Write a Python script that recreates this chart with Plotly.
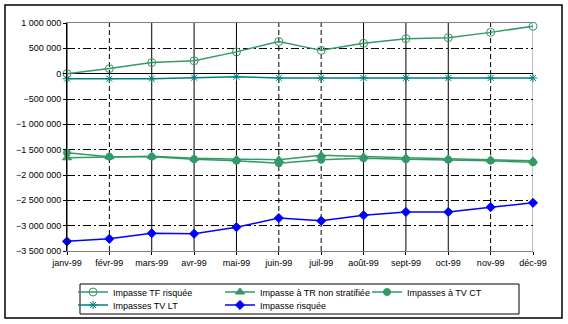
import plotly.graph_objects as go

# Months of 1999
months = ["janv-99", "févr-99", "mars-99", "avr-99", "mai-99", "juin-99",
          "juil-99", "août-99", "sept-99", "oct-99", "nov-99", "déc-99"]

# Series values
impasse_tf_risquee = [0, 100000, 220000, 255000, 430000, 635000,
                      460000, 600000, 690000, 710000, 815000, 935000]
impasse_tr_non_strat = [-1660000, -1640000, -1630000, -1670000, -1690000, -1700000,
                        -1610000, -1640000, -1660000, -1680000, -1700000, -1720000]
impasses_tv_ct = [-1560000, -1640000, -1640000, -1690000, -1720000, -1770000,
                  -1700000, -1670000, -1690000, -1700000, -1720000, -1750000]
impasses_tv_lt = [-100000, -100000, -100000, -80000, -60000, -85000,
                  -85000, -85000, -85000, -85000, -85000, -85000]
impasse_risquee = [-3310000, -3260000, -3150000, -3160000, -3030000, -2850000,
                   -2905000, -2795000, -2730000, -2730000, -2635000, -2550000]

# Y axis ticks
y_ticks = list(range(-3500000, 1000001, 500000))

GREEN = "#339966"
TEAL = "#008080"
BLUE = "#0000FF"
FONT = "Liberation Sans"

fig = go.Figure()

def add_series(name, values, color, symbol, size, legend):
    fig.add_trace(go.Scatter(
        x=months, y=values, name=name, mode="lines+markers",
        line=dict(color=color, width=1.5),
        marker=dict(symbol=symbol, size=size, color=color,
                    line=dict(color=color, width=1)),
        cliponaxis=False, legend=legend,
    ))

add_series("Impasse TF risquée", impasse_tf_risquee, GREEN, "circle-open", 8, "legend")
add_series("Impasse à TR non stratifiée", impasse_tr_non_strat, GREEN, "triangle-up", 8, "legend")
add_series("Impasses à TV CT", impasses_tv_ct, GREEN, "circle", 7, "legend")
add_series("Impasses TV LT", impasses_tv_lt, TEAL, "asterisk-open", 7, "legend2")
add_series("Impasse risquée", impasse_risquee, BLUE, "diamond", 7, "legend2")

# Vertical gridline style per month (True = dashed)
v_dashed = [False, True, False, False, False, True,
            True, False, False, False, True, False]
v_color = ["black"] * 11 + ["#808080"]
for m, dashed, c in zip(months, v_dashed, v_color):
    line = dict(color=c, width=1)
    if dashed:
        line["dash"] = "5px,3px"
    fig.add_shape(type="line", xref="x", yref="paper", x0=m, x1=m, y0=0, y1=1,
                  line=line, layer="below")

# Pixel layout helpers
W, H = 568, 324
ml, mr, mt, mb = 67, 35, 23, 73
pw, ph = W - ml - mr, H - mt - mb

def px_x(p):
    return (p - ml) / pw

def px_y(p):
    return (H - mb - p) / ph

# Outer frame around the whole chart
fig.add_shape(type="rect", xref="paper", yref="paper",
              x0=px_x(5), x1=px_x(562), y0=px_y(318), y1=px_y(5),
              line=dict(color="black", width=1.5), fillcolor="rgba(0,0,0,0)")
# Legend frame
fig.add_shape(type="rect", xref="paper", yref="paper",
              x0=px_x(80), x1=px_x(519), y0=px_y(314), y1=px_y(284),
              line=dict(color="black", width=1), fillcolor="white")

legend_common = dict(
    orientation="h", xanchor="left", yanchor="middle",
    borderwidth=0, bgcolor="rgba(0,0,0,0)",
    font=dict(family=FONT, size=9, color="black"),
    entrywidth=102, entrywidthmode="pixels", itemwidth=30, traceorder="normal",
)

fig.update_layout(
    width=W, height=H,
    margin=dict(l=ml, r=mr, t=mt, b=mb, pad=0, autoexpand=False),
    paper_bgcolor="white", plot_bgcolor="white",
    separators=", ",
    font=dict(family=FONT, size=9, color="black"),
    showlegend=True,
    legend=dict(x=px_x(73), y=px_y(292), **legend_common),
    legend2=dict(x=px_x(73), y=px_y(305), **legend_common),
    xaxis=dict(
        type="category", range=[0, len(months) - 1],
        showgrid=False, showline=True, linecolor="#808080", linewidth=1,
        mirror=True, ticks="outside", ticklen=3, tickcolor="black",
        tickfont=dict(family=FONT, size=9, color="black"),
        zeroline=False,
    ),
    yaxis=dict(
        range=[-3500000, 1000000], tickvals=y_ticks, tickformat=",d",
        showgrid=True, gridcolor="black", gridwidth=1, griddash="8px,3px,2px,3px",
        zeroline=True, zerolinecolor="black", zerolinewidth=1,
        showline=True, linecolor="black", linewidth=1,
        ticks="outside", ticklen=3, tickcolor="black",
        tickfont=dict(family=FONT, size=9, color="black"),
    ),
)

fig.write_html("out.html")
